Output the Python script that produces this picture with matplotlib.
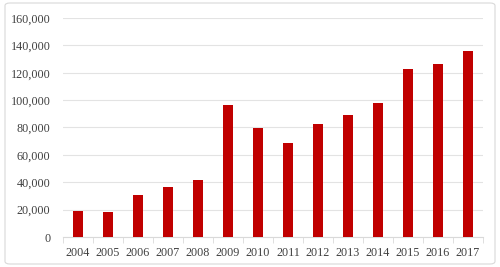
import matplotlib.pyplot as plt
import matplotlib.ticker as mticker
from matplotlib.patches import FancyBboxPatch
import numpy as np

years = ['2004', '2005', '2006', '2007', '2008', '2009', '2010',
         '2011', '2012', '2013', '2014', '2015', '2016', '2017']
values = [18800, 17900, 31000, 36400, 41500, 96300, 79500,
          69000, 82200, 89300, 97800, 122700, 126600, 136100]

plt.rcParams['font.family'] = ['Liberation Serif', 'DejaVu Serif']

fig = plt.figure(figsize=(5, 2.67), dpi=100)
ax = fig.add_axes([63 / 500, 30 / 267, 420 / 500, 219 / 267])

# outer frame of the chart
frame = FancyBboxPatch((5 / 500, 3 / 267), 490 / 500, 261 / 267,
                       boxstyle='round,pad=0,rounding_size=0.01',
                       transform=fig.transFigure, fill=False,
                       edgecolor='#d9d9d9', linewidth=0.8)
fig.patches.append(frame)

x = np.arange(len(years))
ax.bar(x, values, width=0.34, color='#c00000', zorder=3)

ax.set_xlim(-0.5, len(years) - 0.5)
ax.set_ylim(0, 160000)
ax.yaxis.set_major_locator(mticker.MultipleLocator(20000))
ax.yaxis.set_major_formatter(mticker.FuncFormatter(lambda v, p: f'{int(v):,}'))
ax.grid(axis='y', color='#e3e3e3', linewidth=0.8, zorder=0)

ax.set_xticks(x)
ax.set_xticklabels(years)
ax.set_xticks(np.arange(-0.5, len(years), 1), minor=True)
ax.tick_params(axis='x', which='major', length=0, pad=7, labelsize=8.7, colors='#404040')
ax.tick_params(axis='x', which='minor', length=4, color='#d9d9d9')
ax.tick_params(axis='y', length=0, pad=9, labelsize=8.7, colors='#404040')

for s in ['top', 'right', 'left']:
    ax.spines[s].set_visible(False)
ax.spines['bottom'].set_color('#d9d9d9')

fig.savefig('out.png', dpi=100)
